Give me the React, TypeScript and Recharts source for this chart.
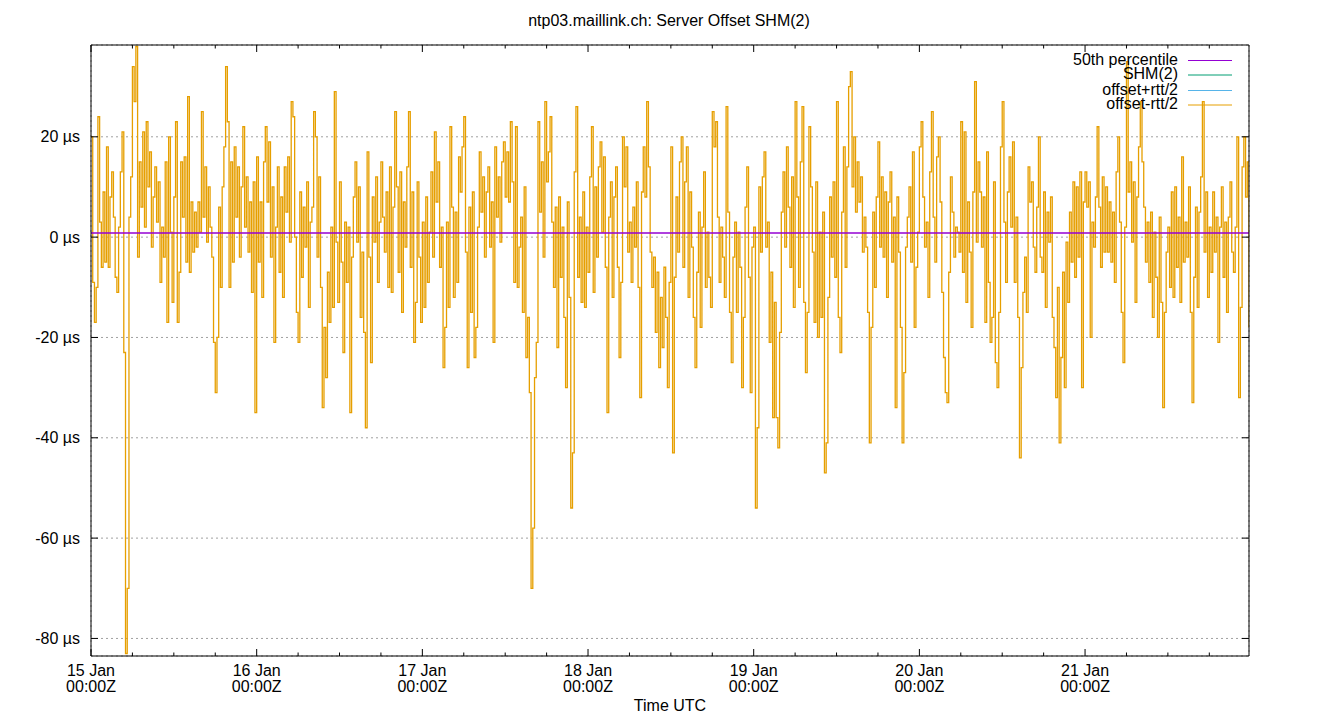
import React from 'react';
import { LineChart, Line, XAxis, YAxis, CartesianGrid } from 'recharts';

// offset samples in µs, one every 15 min starting 15 Jan 00:00Z
const offsetSeg1 = [
  20, -9, -17, -10, 24, 3, -6, 9, -5, 18,
  -6, 8, 13, 4, -8, -11, 2, 13, 21, -23,
  -83, -70, 4, 12, 34, 27, 38, -4, 15, 6,
  21, 2, 23, 10, 17, -2, 8, 14, 3, 11,
  -9, 2, -4, 15, -17, 20, 1, -13, 8, 23,
  -17, -7, 15, 4, 16, -5, 28, -7, 7, -3,
  5, -2, 7, 1, 25, 4, 14, -1, 10, 2,
  -4, -21, -31, -20, 6, -10, 10, 18, 34, 23,
  -10, 15, -5, 18, 4, 14, -4, 10, 22, 2,
  12, -3, 7, -11, 11, -35, 16, -5, 7, -12,
  15, 22, 7, 19, -4, 10, -21, 2, 14, -7,
  8, -12, 14,
];
const offsetSeg2 = [
  5, 16, -1, 27, 24, 0, -15, -21, 9, -8,
  6, -2, 11, -14, 3, 6, 25, 20, -4, 12,
  -10, -34, -18, -28, -7, -17, 2, -14, 29, -1,
  -13, 11, -5, -23, 3, -9, 2, -35, -4, 8,
  15, -1, 10, -16, -3, -19, -38, 17, -4, -25,
  8, -1, 12, -9, 3, 15, 4, -3, 9, -10,
  14, -11, 6, 25, 10, -7, 13, -15, 7, -2,
  14, 25, -6, 9, -21, -13, 11, -4, -17, 3,
  -14, 8, -9, 1, 13, -4, 21, 7, 15, -6,
  2, -26, -18, 3, -14, 22, 6, -12, 5, -9,
  16, 9, 18, 24, -3, -26, 6, -15, 9, -24,
  -18, 2,
];
const offsetSeg3 = [
  17, 5, 12, -4, 9, 14, -2, 7, -21, 18,
  4, 12, -1, 15, 19, 8, 17, 7, 23, 11,
  -9, 22, -10, -2, 4, -15, 10, -24, -16, -31,
  -70, -58, -28, -21, 23, 5, 15, -4, 27, 11,
  17, 24, 3, -10, 6, -22, 8, -8, 2, -16,
  -30, 7, -12, -54, -43, 13, 26, -8, 4, -13,
  9, -14, 2, -7, 12, 22, -11, 10, -4, 14,
  19, 1, 16, -6, -35, 4, 11, -12, 8, 14,
  -6, -24, -9, 20, 10, 18, -3, 3, -9, 6,
  -2, 11, -10, -32, 9, 18, 8, 27, 14, -3,
  -10, -4, -19, -7, -26, -12, -22, -6, -16, -30,
  -9, 18,
];
const offsetSeg4 = [
  -43, -8, 8, -3, 15, 20, -6, 11, 18, -12,
  9, -2, -16, -26, -7, 5, -18, 2, 13, -10,
  1, -8, -14, 25, 18, 23, 4, -9, 2, -4,
  -12, 26, 5, -15, -25, -4, 3, -15, 1, -6,
  -30, -16, 6, 14, -8, -31, -2, 2, -54, -38,
  10, -3, 12, 17, -2, 3, -21, -7, -36, -13,
  -36, -42, -19, 5, 13, -2, 18, 6, -6, 12,
  -14, 27, 8, -10, 15, 26, -13, -27, -15, 22,
  10, -3, -17, 11, -20, 1, -16, 5, -47, -41,
  -12, 8, -4, 11, -8, 27, -16, -23, 5, 18,
  -6, 14, 30, 33, 10, 20, 5, 15, 7, 12,
  -3, 4,
];
const offsetSeg5 = [
  -2, -15, -41, -18, 5, -10, 8, 19, -2, 12,
  -4, 9, -12, 7, 13, -5, 4, -34, 8, -3,
  -18, -41, -27, -2, 4, 10, -5, 17, -18, -6,
  1, 18, 23, 8, -2, 3, -12, 13, 25, 4,
  -5, 16, 20, 7, -11, -24, -31, -33, -7, 12,
  5, -4, 2, 1, -3, 23, -7, 21, -13, 7,
  -3, -18, 9, 31, -1, 15, 9, -2, 8, -17,
  17, -9, -21, -16, 11, -25, -30, -15, 18, 27,
  3, -9, 9, 16, 2, 19, -9, 4, -16, -44,
  -26, -11, -4, -15, 14, 7, 11, -2, -7, 6,
  20, -4, -7, 9, -14, 5, -1, 8, -16, -22,
  -32, -10,
];
const offsetSeg6 = [
  -41, -24, -7, -30, -1, -13, 5, -5, 11, -8,
  10, -4, 13, -30, 7, 13, 6, 11, -20, 3,
  -2, 8, 22, 6, -6, 12, -3, 10, -3, 7,
  -5, 5, -9, 13, 20, 3, -15, -25, 2, 35,
  9, 15, -1, 11, -13, 8, 18, 27, 15, 6,
  -5, 3, -9, 5, -16, 1, -8, -20, 4, -13,
  -34, -15, -3, 2, -10, 9, -12, 10, -6, 4,
  -13, 16, -5, 3, -4, 10, -15, -33, -8, 6,
  -14, 5, 12, 27, -3, 9, -12, 2, -7, 9,
  -3, 4, -21, 2, 10, -8, 3, -15, 4, 11,
  -3, -7, 2, 20, -32, -14, 14, 20, 8, 15,
  -18,
];

const P50 = 0.8; // 50th percentile, µs
const STEP_HOURS = 0.25;

const DAY_LABELS = ['15 Jan', '16 Jan', '17 Jan', '18 Jan', '19 Jan', '20 Jan', '21 Jan'];
const DAY_TICKS = [0, 24, 48, 72, 96, 120, 144];
const SIX_HOUR_TICKS = [0, 6, 12, 18, 24, 30, 36, 42, 48, 54, 60, 66, 72, 78, 84, 90, 96, 102, 108, 114, 120, 126, 132, 138, 144, 150, 156, 162];
const Y_TICKS = [20, 0, -20, -40, -60, -80];

const offsets = [...offsetSeg1, ...offsetSeg2, ...offsetSeg3, ...offsetSeg4, ...offsetSeg5, ...offsetSeg6];
// SHM(2) and offset+rtt/2 sit under offset-rtt/2 everywhere in the picture, so only that one is drawn
const data = offsets.map((v, i) => ({ t: i * STEP_HOURS, lo: v, p50: P50 }));

const X_DOMAIN = [0, 167.75];
const Y_DOMAIN = [-83.5, 38.3];

const FONT = '"Liberation Sans", Arial, sans-serif';
const C_P50 = '#9400d3';
const C_SHM = '#009e73';
const C_HI = '#56b4e9';
const C_LO = '#e69f00';

const BottomTick = (props: any) => {
  const { x, y, payload } = props;
  const h = payload.value;
  const major = h % 24 === 0;
  return (
    <g>
      <line x1={x} x2={x} y1={y} y2={y - (major ? 7 : 3.5)} stroke="#000" />
      {major && (
        <text x={x} y={y} textAnchor="middle" fontSize={16} fontFamily={FONT} fill="#000">
          <tspan x={x} dy={20}>{DAY_LABELS[h / 24]}</tspan>
          <tspan x={x} dy={16}>00:00Z</tspan>
        </text>
      )}
    </g>
  );
};

const TopTick = (props: any) => {
  const { x, y, payload } = props;
  const major = payload.value % 24 === 0;
  return <line x1={x} x2={x} y1={y} y2={y + (major ? 7 : 3.5)} stroke="#000" />;
};

const LeftTick = (props: any) => {
  const { x, y, payload } = props;
  return (
    <g>
      <line x1={x} x2={x + 7} y1={y} y2={y} stroke="#000" />
      <text x={x - 11} y={y + 5.5} textAnchor="end" fontSize={16} fontFamily={FONT} fill="#000">
        {`${payload.value} µs`}
      </text>
    </g>
  );
};

const RightTick = (props: any) => {
  const { x, y } = props;
  return <line x1={x} x2={x - 7} y1={y} y2={y} stroke="#000" />;
};

const legendRows = [
  { name: '50th percentile', color: C_P50, y: 60.5 },
  { name: 'SHM(2)', color: C_SHM, y: 75 },
  { name: 'offset+rtt/2', color: C_HI, y: 90.5 },
  { name: 'offset-rtt/2', color: C_LO, y: 105 },
];

export default function App() {
  return (
    <div style={{ position: 'absolute', left: 0, top: 0, width: 1340, height: 720, background: '#fff' }}>
      <LineChart width={1340} height={720} data={data} margin={{ top: 44, right: 90, bottom: 0, left: 0 }}>
        <CartesianGrid xAxisId="days" stroke="#a0a0a0" strokeDasharray="2 3" />
        <XAxis
          dataKey="t"
          type="number"
          domain={X_DOMAIN}
          allowDataOverflow
          ticks={SIX_HOUR_TICKS}
          interval={0}
          height={64}
          tickSize={0}
          tickMargin={0}
          tickLine={false}
          tick={<BottomTick />}
          axisLine={{ stroke: '#000' }}
          label={{ value: 'Time UTC', position: 'insideBottom', offset: 9, fontSize: 16, fontFamily: FONT, fill: '#000' }}
        />
        <XAxis
          xAxisId="top"
          dataKey="t"
          type="number"
          orientation="top"
          domain={X_DOMAIN}
          allowDataOverflow
          ticks={SIX_HOUR_TICKS}
          interval={0}
          height={1}
          tickSize={0}
          tickMargin={0}
          tickLine={false}
          tick={<TopTick />}
          axisLine={{ stroke: '#000' }}
        />
        <XAxis
          xAxisId="days"
          dataKey="t"
          type="number"
          orientation="top"
          domain={X_DOMAIN}
          allowDataOverflow
          ticks={DAY_TICKS}
          interval={0}
          height={0}
          tick={false}
          tickLine={false}
          axisLine={false}
        />
        <YAxis
          type="number"
          domain={Y_DOMAIN}
          allowDataOverflow
          ticks={Y_TICKS}
          interval={0}
          width={91}
          tickSize={0}
          tickMargin={0}
          tickLine={false}
          tick={<LeftTick />}
          axisLine={{ stroke: '#000' }}
        />
        <YAxis
          yAxisId="right"
          type="number"
          orientation="right"
          domain={Y_DOMAIN}
          allowDataOverflow
          ticks={Y_TICKS}
          interval={0}
          width={1}
          tickSize={0}
          tickMargin={0}
          tickLine={false}
          tick={<RightTick />}
          axisLine={{ stroke: '#000' }}
        />
        <Line
          type="stepAfter"
          dataKey="lo"
          stroke={C_LO}
          strokeWidth={1.3}
          dot={false}
          activeDot={false}
          isAnimationActive={false}
        />
        <Line
          dataKey="p50"
          xAxisId="days"
          yAxisId="right"
          stroke={C_P50}
          strokeWidth={1.5}
          dot={false}
          activeDot={false}
          isAnimationActive={false}
        />
      </LineChart>

      <svg width={1340} height={720} style={{ position: 'absolute', left: 0, top: 0, pointerEvents: 'none' }}>
        <text x={669} y={26} textAnchor="middle" fontSize={16} fontFamily={FONT} fill="#000">
          ntp03.maillink.ch: Server Offset SHM(2)
        </text>
        {legendRows.map((r) => (
          <g key={r.name}>
            <text x={1178} y={r.y + 4} textAnchor="end" fontSize={16} fontFamily={FONT} fill="#000">
              {r.name}
            </text>
            <line x1={1188} x2={1232} y1={r.y} y2={r.y} stroke={r.color} strokeWidth={1} />
          </g>
        ))}
      </svg>
    </div>
  );
}
